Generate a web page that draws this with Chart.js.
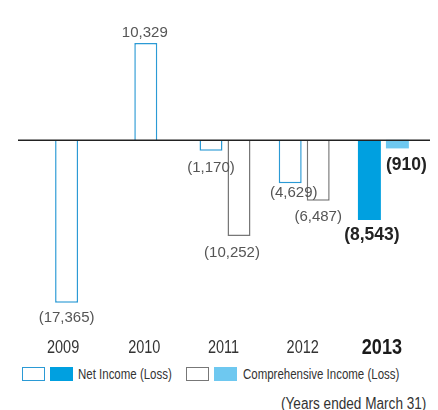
<!DOCTYPE html>
<html>
<head>
<meta charset="utf-8">
<script src="https://cdn.jsdelivr.net/npm/chart.js@4.4.1/dist/chart.umd.min.js"></script>
<style>
  body { margin: 0; background: #fff; }
  #wrap { position: relative; width: 438px; height: 410px; font-family: 'Liberation Sans', Arial, sans-serif; color: #333; }
  #caixa { position: absolute; left: 0; top: 0; width: 438px; height: 362px; }
  .quad { position: absolute; top: 367px; width: 23px; height: 14px; box-sizing: border-box; }
  .txt { position: absolute; top: 365px; font-size: 14px; line-height: 18px; white-space: nowrap; color: #333; transform: scaleX(0.82); transform-origin: 0 0; }
  #nota { position: absolute; left: 281px; top: 395px; font-size: 16px; line-height: 18px; white-space: nowrap; color: #333; transform: scaleX(0.85); transform-origin: 0 0; }
</style>
</head>
<body>
<div id="wrap">
  <div id="caixa"><canvas id="grafico"></canvas></div>
  <div class="quad" style="left:22px;border:1.5px solid #2b9ad5;background:#fff"></div>
  <div class="quad" style="left:50px;background:#00a0e0"></div>
  <span class="txt" style="left:78px">Net Income (Loss)</span>
  <div class="quad" style="left:186px;border:1.5px solid #777;background:#fff"></div>
  <div class="quad" style="left:214px;background:#6ec8f0"></div>
  <span class="txt" style="left:243px">Comprehensive Income (Loss)</span>
  <span id="nota">(Years ended March 31)</span>
</div>
<script>
// dados (milhões de ienes)
const anos = ['2009', '2010', '2011', '2012', '2013'];
const lucroLiquido = [-17365, 10329, -1170, -4629, -8543];
const resultadoAbrangente = [null, null, -10252, -6487, -910];

// ajustes finos de posição dos rótulos [dx, dy]
const ajusteLucro = [[0, 19], [-1, -6], [0, 21.5], [3.5, 13.5], [2.5, 20]];
const ajusteAbrangente = [null, null, [-7, 21.5], [0, 20.5], [9, 21.5]];

const fonte = "'Liberation Sans', Arial, sans-serif";

const azulLinha = '#2b9ad5';
const azulCheio = '#00a0e0';
const cinzaLinha = '#777';
const azulClaro = '#6ec8f0';
const ultimo = anos.length - 1;

function formatar(v) {
  const s = Math.abs(v).toLocaleString('en-US');
  return v < 0 ? '(' + s + ')' : s;
}

// linha do zero, mais larga que a área do gráfico
const linhaZero = {
  id: 'linhaZero',
  afterDatasetsDraw(chart) {
    const y = Math.round(chart.scales.y.getPixelForValue(0)) + 0.25;
    const ctx = chart.ctx;
    ctx.save();
    ctx.strokeStyle = '#222';
    ctx.lineWidth = 1.5;
    ctx.beginPath();
    ctx.moveTo(18, y);
    ctx.lineTo(430, y);
    ctx.stroke();
    ctx.restore();
  }
};

// rótulos de valor sobre/sob as barras
const rotulos = {
  id: 'rotulos',
  afterDatasetsDraw(chart) {
    const ctx = chart.ctx;
    const ajustes = [ajusteLucro, ajusteAbrangente];
    chart.data.datasets.forEach((ds, di) => {
      const meta = chart.getDatasetMeta(di);
      meta.data.forEach((bar, i) => {
        const v = ds.data[i];
        if (v === null || v === undefined) return;
        const aj = ajustes[di][i] || [0, 20];
        const negrito = i === ultimo;
        ctx.save();
        ctx.font = (negrito ? 'bold 17.5px ' : '15px ') + fonte;
        ctx.fillStyle = negrito ? '#222' : '#555';
        ctx.textAlign = 'center';
        ctx.textBaseline = 'alphabetic';
        ctx.fillText(formatar(v), bar.x + aj[0], bar.y + aj[1]);
        ctx.restore();
      });
    });
  }
};

// anos no eixo x, em fonte estreitada (não há Narrow instalada)
const rotulosAnos = {
  id: 'rotulosAnos',
  afterDraw(chart) {
    const ctx = chart.ctx;
    const x = chart.scales.x;
    anos.forEach((ano, i) => {
      const negrito = i === ultimo;
      const px = x.getPixelForTick(i) - (i === 0 ? 3.5 : 1.5);
      ctx.save();
      ctx.translate(px, negrito ? 354 : 353);
      ctx.scale(0.82, 1);
      ctx.font = (negrito ? 'bold 22px ' : '17.7px ') + fonte;
      ctx.fillStyle = negrito ? '#1a1a1a' : '#333';
      ctx.textAlign = 'center';
      ctx.textBaseline = 'alphabetic';
      ctx.fillText(ano, 0, 0);
      ctx.restore();
    });
  }
};

new Chart(document.getElementById('grafico'), {
  type: 'bar',
  data: {
    labels: anos,
    datasets: [
      {
        label: 'Net Income (Loss)',
        data: lucroLiquido,
        backgroundColor: anos.map((a, i) => i === ultimo ? azulCheio : '#fff'),
        borderColor: azulLinha,
        borderWidth: anos.map((a, i) => i === ultimo ? 0 : 1.5)
      },
      {
        label: 'Comprehensive Income (Loss)',
        data: resultadoAbrangente,
        backgroundColor: anos.map((a, i) => i === ultimo ? azulClaro : '#fff'),
        borderColor: cinzaLinha,
        borderWidth: anos.map((a, i) => i === ultimo ? 0 : 1.5)
      }
    ]
  },
  options: {
    responsive: true,
    maintainAspectRatio: false,
    animation: false,
    skipNull: true,
    maxBarThickness: 23,
    barPercentage: 0.82,
    categoryPercentage: 0.707,
    layout: { padding: { left: 27, right: 15, top: 18, bottom: 2 } },
    scales: {
      y: {
        display: false,
        min: -19000,
        max: 13000
      },
      x: {
        grid: { display: false, drawTicks: false },
        border: { display: false },
        afterFit: (scale) => { scale.height = 42; },
        ticks: { display: false }
      }
    },
    plugins: {
      legend: { display: false },
      tooltip: { enabled: false }
    }
  },
  plugins: [linhaZero, rotulos, rotulosAnos]
});
</script>
</body>
</html>
